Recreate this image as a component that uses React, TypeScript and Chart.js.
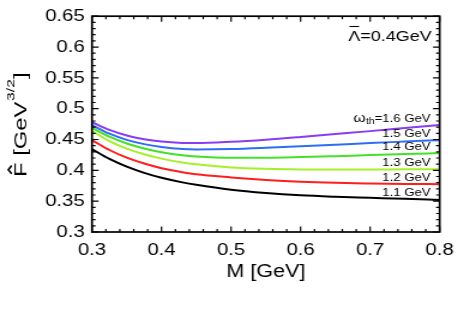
import { useEffect, useRef } from "react";
import { Chart, registerables } from "chart.js";

Chart.register(...registerables);

// ---- data ----
const massGeV = [0.3, 0.325, 0.35, 0.375, 0.4, 0.43, 0.45, 0.5, 0.55, 0.6, 0.65, 0.7, 0.75, 0.8];
const fW16 = [0.478, 0.4655, 0.4565, 0.4505, 0.4467, 0.4445, 0.4442, 0.4462, 0.4496, 0.454, 0.4588, 0.4636, 0.4685, 0.4734];
const fW15 = [0.4734, 0.4595, 0.4495, 0.4425, 0.4378, 0.4345, 0.4338, 0.4345, 0.4365, 0.439, 0.4415, 0.4443, 0.4467, 0.449];
const fW14 = [0.469, 0.4545, 0.4435, 0.4355, 0.4295, 0.4245, 0.4225, 0.4205, 0.4205, 0.4215, 0.423, 0.4247, 0.4264, 0.428];
const fW13 = [0.4637, 0.4475, 0.4352, 0.426, 0.419, 0.4128, 0.4098, 0.4048, 0.4025, 0.4015, 0.4013, 0.4015, 0.4016, 0.4017];
const fW12 = [0.449, 0.433, 0.4205, 0.411, 0.4035, 0.397, 0.3935, 0.3885, 0.3845, 0.3815, 0.3797, 0.3787, 0.378, 0.3776];
const fW11 = [0.4344, 0.4185, 0.406, 0.396, 0.388, 0.3805, 0.3765, 0.3685, 0.3632, 0.3595, 0.3572, 0.3555, 0.3538, 0.352];

const seriesValues = [fW16, fW15, fW14, fW13, fW12, fW11];
const seriesNames = ["1.6 GeV", "1.5 GeV", "1.4 GeV", "1.3 GeV", "1.2 GeV", "1.1 GeV"];
const seriesColors = ["#8a3cf5", "#2f6df5", "#45e02a", "#a6f02a", "#ff1e1e", "#000000"];

const xMin = 0.3, xMax = 0.8, xStep = 0.1, xMinorStep = 0.02;
const yMin = 0.3, yMax = 0.65, yStep = 0.05, yMinorStep = 0.01;

const xTitle = "M [GeV]";
const lambdaText = "=0.4GeV";

const FONT = '"Liberation Sans", Arial, Helvetica, sans-serif';
const CANVAS_W = 387;
const CANVAS_H = 323;
const STRETCH = 464 / CANVAS_W;

const overlay = {
  id: "overlay",
  afterDraw(chart: any) {
    const { ctx, chartArea: a, scales } = chart;
    const x = scales.x, y = scales.y;
    ctx.save();
    // frame
    ctx.strokeStyle = "#000";
    ctx.lineWidth = 1.7;
    ctx.strokeRect(a.left, a.top, a.right - a.left, a.bottom - a.top);
    // ticks
    ctx.lineWidth = 1.2;
    ctx.beginPath();
    const nx = Math.round((xMax - xMin) / xMinorStep);
    const perMajorX = Math.round(xStep / xMinorStep);
    for (let i = 0; i <= nx; i++) {
      const px = x.getPixelForValue(xMin + i * xMinorStep);
      const len = i % perMajorX === 0 ? 5.5 : 3;
      ctx.moveTo(px, a.bottom);
      ctx.lineTo(px, a.bottom - len);
      ctx.moveTo(px, a.top);
      ctx.lineTo(px, a.top + len);
    }
    const ny = Math.round((yMax - yMin) / yMinorStep);
    const perMajorY = Math.round(yStep / yMinorStep);
    for (let i = 0; i <= ny; i++) {
      const py = y.getPixelForValue(yMin + i * yMinorStep);
      const len = i % perMajorY === 0 ? 5.5 : 3;
      ctx.moveTo(a.left, py);
      ctx.lineTo(a.left + len, py);
      ctx.moveTo(a.right, py);
      ctx.lineTo(a.right - len, py);
    }
    ctx.stroke();

    ctx.fillStyle = "#000";
    // curve labels
    const rx = a.right - 7.5;
    ctx.textAlign = "right";
    ctx.textBaseline = "middle";
    seriesNames.forEach((name, i) => {
      const meta = chart.getDatasetMeta(i);
      const last = meta.data[meta.data.length - 1];
      const ly = last.y - 6.5;
      ctx.font = `11px ${FONT}`;
      if (i === 0) {
        const main = "=" + name;
        ctx.fillText(main, rx, ly);
        const w1 = ctx.measureText(main).width;
        ctx.font = `8.5px ${FONT}`;
        ctx.fillText("th", rx - w1, ly + 3);
        const w2 = ctx.measureText("th").width;
        ctx.font = `13px ${FONT}`;
        ctx.fillText("ω", rx - w1 - w2 - 0.3, ly - 0.5);
      } else {
        ctx.fillText(name, rx, ly);
      }
    });

    // Lambda-bar label
    ctx.font = `15px ${FONT}`;
    ctx.textBaseline = "alphabetic";
    ctx.textAlign = "right";
    const lrx = a.right - 6.6;
    const lby = a.top + 24.3;
    ctx.fillText(lambdaText, lrx, lby);
    const wRest = ctx.measureText(lambdaText).width;
    const wL = ctx.measureText("Λ").width;
    ctx.fillText("Λ", lrx - wRest, lby);
    ctx.beginPath();
    ctx.lineWidth = 1.1;
    ctx.moveTo(lrx - wRest - wL + 1, lby - 14);
    ctx.lineTo(lrx - wRest - 1, lby - 14);
    ctx.stroke();

    // x title
    ctx.font = `18px ${FONT}`;
    ctx.textAlign = "center";
    ctx.fillText(xTitle, (a.left + a.right) / 2, a.bottom + 45.3);

    // y title (rotated)
    {
      const baseX = 21.7, startY = 177, length = 104, cap = 10.8;
      const fs = 20;
      ctx.save();
      ctx.translate(baseX, startY);
      ctx.rotate(-Math.PI / 2);
      ctx.textAlign = "left";
      ctx.textBaseline = "alphabetic";
      ctx.font = `${fs}px ${FONT}`;
      const wF = ctx.measureText("F").width;
      const wMid = ctx.measureText(" [GeV").width;
      const wClose = ctx.measureText("]").width;
      const supFs = fs * 0.66;
      ctx.font = `${supFs}px ${FONT}`;
      const wSup = ctx.measureText("3/2").width;
      const total = wF + wMid + wSup + wClose;
      const sx = length / total;
      const k = cap / (0.716 * fs);
      ctx.scale(sx, k);
      ctx.font = `${fs}px ${FONT}`;
      ctx.fillText("F", 0, 0);
      ctx.fillText(" [GeV", wF, 0);
      ctx.font = `${supFs}px ${FONT}`;
      ctx.fillText("3/2", wF + wMid + 0.5, -fs * 0.66);
      ctx.font = `${fs}px ${FONT}`;
      ctx.fillText("]", wF + wMid + wSup + 0.5, 0);
      const capT = 0.716 * fs;
      ctx.beginPath();
      ctx.moveTo(wF * 0.22, -capT - fs * 0.08);
      ctx.lineTo(wF * 0.5, -capT - fs * 0.26);
      ctx.lineTo(wF * 0.78, -capT - fs * 0.08);
      ctx.lineWidth = 1.8;
      ctx.stroke();
      ctx.restore();
    }
    ctx.restore();
  },
};

const fmt = (v: any) => String(Number(Number(v).toFixed(2)));

export default function App() {
  const ref = useRef<HTMLCanvasElement | null>(null);
  useEffect(() => {
    if (!ref.current) return;
    const chart = new Chart(ref.current, {
      type: "line",
      data: {
        datasets: seriesValues.map((vals, i) => ({
          label: seriesNames[i],
          data: vals.map((v, j) => ({ x: massGeV[j], y: v })),
          borderColor: seriesColors[i],
          borderWidth: 2,
          pointRadius: 0,
          fill: false,
          cubicInterpolationMode: "monotone" as const,
        })),
      },
      options: {
        animation: false,
        responsive: true,
        maintainAspectRatio: false,
        layout: { padding: { left: 0, top: 14, right: CANVAS_W - 448 / STRETCH, bottom: 0 } },
        plugins: { legend: { display: false }, tooltip: { enabled: false } },
        scales: {
          x: {
            type: "linear",
            min: xMin,
            max: xMax,
            grid: { display: false, drawTicks: false },
            border: { display: false },
            ticks: {
              stepSize: xStep,
              color: "#000",
              font: { family: FONT, size: 17 },
              padding: 8.5,
              maxRotation: 0,
              callback: fmt,
            },
            afterFit: (s: any) => {
              s.height = CANVAS_H - 232;
            },
          },
          y: {
            type: "linear",
            min: yMin,
            max: yMax,
            grid: { display: false, drawTicks: false },
            border: { display: false },
            ticks: {
              stepSize: yStep,
              color: "#000",
              font: { family: FONT, size: 17 },
              padding: 6,
              callback: fmt,
            },
            afterFit: (s: any) => {
              s.width = 92 / STRETCH;
            },
          },
        },
      },
      plugins: [overlay],
    });
    return () => chart.destroy();
  }, []);

  return (
    <div style={{ position: "absolute", left: 0, top: 0, width: 464, height: CANVAS_H, overflow: "hidden", background: "#fff" }}>
      <div
        style={{
          position: "relative",
          width: CANVAS_W,
          height: CANVAS_H,
          transform: `scaleX(${STRETCH})`,
          transformOrigin: "0 0",
        }}
      >
        <canvas ref={ref} />
      </div>
    </div>
  );
}
